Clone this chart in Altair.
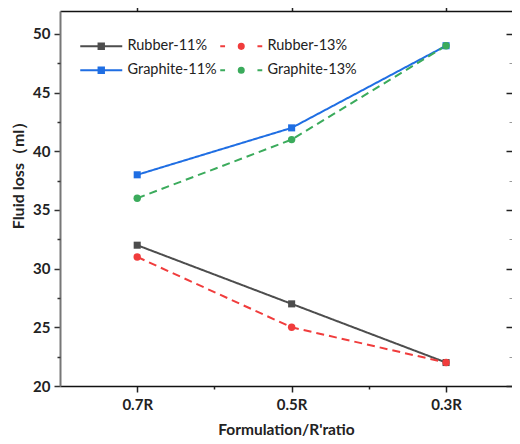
import json
import altair as alt
import pandas as pd

categories = ["0.7R", "0.5R", "0.3R"]
series_names = ["Rubber-11%", "Rubber-13%", "Graphite-11%", "Graphite-13%"]
rubber_11 = [32, 27, 22]
rubber_13 = [31, 25, 22]
graphite_11 = [38, 42, 49]
graphite_13 = [36, 41, 49]
colors = ["#4d4d4d", "#f03c3c", "#1f6ee3", "#3bab5c"]
dashes = [[1, 0], [8, 5], [1, 0], [8, 5]]
y_major = [20, 25, 30, 35, 40, 45, 50]
y_minor = [22.5, 27.5, 32.5, 37.5, 42.5, 47.5]
x_minor = [0.5, 1.5]

rows = []
for k, (name, vals) in enumerate(zip(series_names, [rubber_11, rubber_13, graphite_11, graphite_13])):
    for i, (c, v) in enumerate(zip(categories, vals)):
        rows.append({"series": name, "idx": i, "cat": c, "value": v, "k": k})
df = pd.DataFrame(rows)

FONT = "Lato"
W, H = 452, 375
x_scale = alt.Scale(domain=[-0.5, 2.427], nice=False, zero=False)
y_scale = alt.Scale(domain=[20, 51.96], nice=False, zero=False)
label_expr = json.dumps(categories) + "[datum.value]"

# legend scales use the natural order; the plot-only scales use permuted orders
# so that their (hidden) legends are not merged with the visible one
col_scale = alt.Scale(domain=series_names, range=colors)
rev = [3, 2, 1, 0]
plot_col_scale = alt.Scale(domain=[series_names[i] for i in rev], range=[colors[i] for i in rev])
perm = [1, 0, 3, 2]
dash_scale = alt.Scale(domain=[series_names[i] for i in perm], range=[dashes[i] for i in perm])

solid_sq = "M-3.5,0H3.5M-0.45,-0.45H0.45V0.45H-0.45Z"
dash_ci = "M-3.5,0H-2.7M2.7,0H3.5M-0.42,0A0.42,0.42,0,1,0,0.42,0A0.42,0.42,0,1,0,-0.42,0Z"
legend_shapes = alt.Scale(domain=series_names, range=[solid_sq, dash_ci, solid_sq, dash_ci])

ax_x_bottom = alt.Axis(orient="bottom", values=[0, 1, 2], labelExpr=label_expr, tickSize=6,
                       tickColor="#222", tickWidth=1.5, domainColor="#111", domainWidth=1.5,
                       labelFont=FONT, labelFontWeight="bold", labelFontSize=15, labelColor="#222",
                       labelPadding=5, grid=False,
                       title="Formulation/R'ratio", titleFont=FONT, titleFontSize=15.5,
                       titleFontWeight="bold", titleColor="#222", titleY=48,
                       titleBaseline="alphabetic")
ax_x_minor = alt.Axis(orient="bottom", values=x_minor, tickSize=3, tickColor="#222", tickWidth=1.5,
                      labels=False, domain=False, grid=False, title=None)
ax_x_top = alt.Axis(orient="top", values=[0, 1, 2], tickSize=5, tickColor="#222", tickWidth=1.5,
                    labels=False, domain=True, domainColor="#111", domainWidth=1.5,
                    grid=False, title=None)
ay_left = alt.Axis(orient="left", values=y_major, tickSize=6, tickColor="#333", tickWidth=1.5,
                   domainColor="#777", domainWidth=2, labelFont=FONT, labelFontWeight="bold",
                   labelFontSize=15, labelColor="#222", labelPadding=4, grid=False,
                   title="Fluid loss（ml）", titleFont=FONT, titleFontSize=16,
                   titleFontWeight="bold", titleColor="#222", titleX=-37, titleY=160,
                   titleAngle=270, titleAlign="center", titleBaseline="alphabetic")
ay_minor = alt.Axis(orient="left", values=y_minor, tickSize=3, tickColor="#333", tickWidth=1.5,
                    labels=False, domain=False, grid=False, title=None)
ay_right = alt.Axis(orient="left", offset=-W, values=y_major, tickSize=6, tickColor="#222",
                    tickWidth=1.5, labels=False, domain=False, grid=False, title=None)
ay_right_minor = alt.Axis(orient="left", offset=-W, values=y_minor, tickSize=3, tickColor="#999",
                          tickWidth=1, labels=False, domain=False, grid=False, title=None)

base = alt.Chart(df)

lines = base.mark_line(strokeWidth=2).encode(
    x=alt.X("idx:Q", scale=x_scale, axis=ax_x_bottom),
    y=alt.Y("value:Q", scale=y_scale, axis=ay_left),
    color=alt.Color("series:N", scale=plot_col_scale, legend=None),
    strokeDash=alt.StrokeDash("series:N", scale=dash_scale, legend=None),
    detail="series:N",
    order="k:Q",
)

squares = base.transform_filter(
    alt.FieldOneOfPredicate(field="series", oneOf=[series_names[0], series_names[2]])
).mark_square(size=50, opacity=1).encode(
    x=alt.X("idx:Q", scale=x_scale, axis=ax_x_minor),
    y=alt.Y("value:Q", scale=y_scale, axis=ay_minor),
    color=alt.Color("series:N", scale=plot_col_scale, legend=None),
)

circles = base.transform_filter(
    alt.FieldOneOfPredicate(field="series", oneOf=[series_names[1], series_names[3]])
).mark_circle(size=55, opacity=1).encode(
    x=alt.X("idx:Q", scale=x_scale, axis=None),
    y=alt.Y("value:Q", scale=y_scale, axis=ay_right_minor),
    color=alt.Color("series:N", scale=plot_col_scale, legend=None),
)

legend_layer = base.transform_filter("false").mark_point(filled=True, strokeWidth=2).encode(
    x=alt.X("idx:Q", scale=x_scale, axis=ax_x_top),
    y=alt.Y("value:Q", scale=y_scale, axis=ay_right),
    fill=alt.Fill("series:N", scale=col_scale, title=None),
    stroke=alt.Stroke("series:N", scale=col_scale, title=None),
    shape=alt.Shape("series:N", scale=legend_shapes, title=None),
)

chart = alt.layer(lines, squares, circles, legend_layer).resolve_axis(
    x="independent", y="independent"
).resolve_scale(x="shared", y="shared").properties(
    width=W, height=H,
    autosize=alt.AutoSizeParams(type="none"),
    padding={"left": 52, "top": 3, "right": 0, "bottom": 50},
).configure_view(stroke=None).configure_legend(
    orient="none", legendX=34, legendY=28, columns=2, direction="horizontal",
    symbolSize=144, labelOffset=19, labelFont=FONT, labelFontSize=14.5, labelColor="#222",
    rowPadding=9, columnPadding=-1, symbolOpacity=1, symbolStrokeWidth=2,
    padding=0,
)

chart.save("out.html", embed_options={"renderer": "svg", "actions": False})
